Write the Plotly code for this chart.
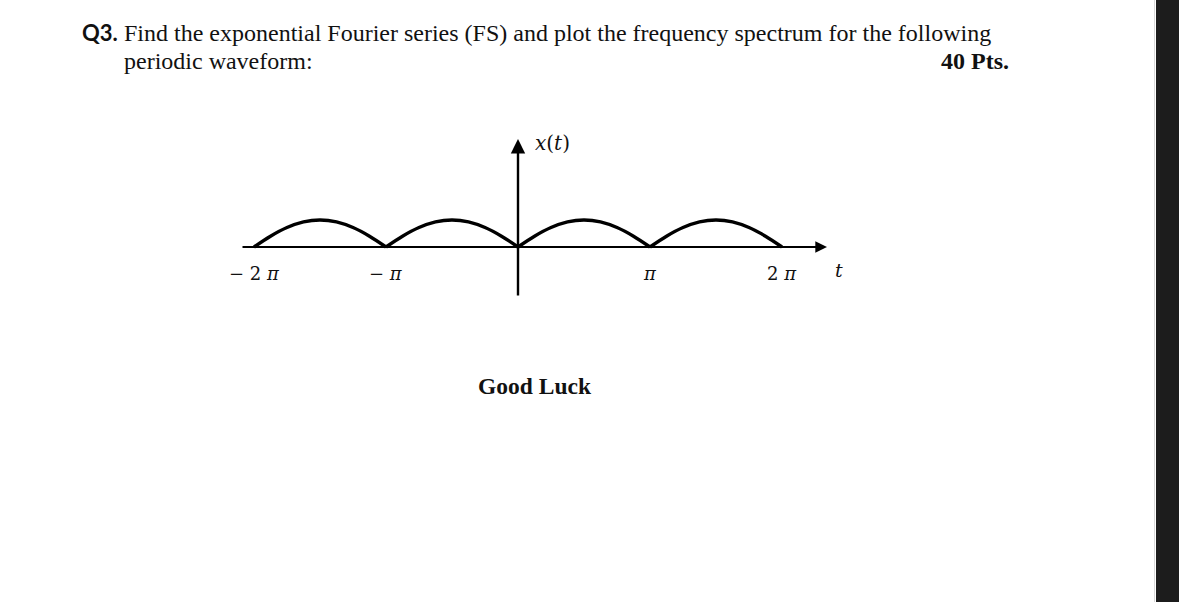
import math
import plotly.graph_objects as go

PI = math.pi

# ---- data ----
arch_starts = [-2 * PI, -PI, 0.0, PI]                 # start of each arch of x(t)
arch_offsets = [0.0, 0.125 * PI, 0.25 * PI, 0.375 * PI, 0.5 * PI,
                0.625 * PI, 0.75 * PI, 0.875 * PI, PI]
arch_heights = [0.0, 0.40, 0.72, 0.93, 1.0, 0.93, 0.72, 0.40, 0.0]
tick_values = [-2 * PI, -PI, PI, 2 * PI]
tick_labels = ["− 2 <i>π</i>", "− <i>π</i>", "<i>π</i>", "2 <i>π</i>"]

W, H = 1179, 602
ORIGIN_X, ORIGIN_Y = 518, 247   # pixel position of (0,0)
PX_PER_PI = 132.0
PX_PER_UNIT_Y = 27.0

x_range = [-ORIGIN_X / PX_PER_PI * PI, (W - ORIGIN_X) / PX_PER_PI * PI]
y_range = [-(H - ORIGIN_Y) / PX_PER_UNIT_Y, ORIGIN_Y / PX_PER_UNIT_Y]

def px_to_t(px):
    return (px - ORIGIN_X) / PX_PER_PI * PI

def py_to_v(py):
    return (ORIGIN_Y - py) / PX_PER_UNIT_Y

fig = go.Figure()

for s in arch_starts:
    fig.add_trace(go.Scatter(
        x=[s + o for o in arch_offsets], y=arch_heights,
        mode="lines", line=dict(color="black", width=3.4, shape="spline"),
        hoverinfo="skip", showlegend=False))

# axes drawn as arrows
fig.add_annotation(x=px_to_t(827), y=0, ax=px_to_t(241), ay=0,
                   xref="x", yref="y", axref="x", ayref="y", text="",
                   showarrow=True, arrowhead=2, arrowsize=1.3, arrowwidth=1.8,
                   arrowcolor="black", standoff=0, startstandoff=0)
fig.add_annotation(x=0, y=py_to_v(139), ax=0, ay=py_to_v(297),
                   xref="x", yref="y", axref="x", ayref="y", text="",
                   showarrow=True, arrowhead=2, arrowsize=1.2, arrowwidth=2.4,
                   arrowcolor="black", standoff=0, startstandoff=0)

serif_math = "DejaVu Serif"
for tv, tl in zip(tick_values, tick_labels):
    fig.add_annotation(x=tv, y=py_to_v(273), xref="x", yref="y", text=tl,
                       showarrow=False, font=dict(family=serif_math, size=18, color="#111"))

fig.add_annotation(x=px_to_t(533), y=py_to_v(143), xref="x", yref="y",
                   text="<i>x</i>(<i>t</i>)", xanchor="left", showarrow=False,
                   font=dict(family=serif_math, size=20, color="#111"))
fig.add_annotation(x=px_to_t(839), y=py_to_v(270), xref="x", yref="y",
                   text="<i>t</i>", showarrow=False,
                   font=dict(family=serif_math, size=19, color="#111"))

# page text
fig.add_annotation(x=80 / W, y=1 - 33 / H, xref="paper", yref="paper",
                   text="<b>Q3.</b>", xanchor="left", yanchor="middle", showarrow=False,
                   font=dict(family="Lato", size=22, color="#111"))
fig.add_annotation(x=122 / W, y=1 - 33 / H, xref="paper", yref="paper",
                   text="Find the exponential Fourier series (FS) and plot the frequency spectrum for the following",
                   xanchor="left", yanchor="middle", showarrow=False,
                   font=dict(family="Liberation Serif", size=24, color="#111"))
fig.add_annotation(x=122 / W, y=1 - 61 / H, xref="paper", yref="paper",
                   text="periodic waveform:", xanchor="left", yanchor="middle", showarrow=False,
                   font=dict(family="Liberation Serif", size=24, color="#111"))
fig.add_annotation(x=1011 / W, y=1 - 61 / H, xref="paper", yref="paper",
                   text="<b>40 Pts.</b>", xanchor="right", yanchor="middle", showarrow=False,
                   font=dict(family="Liberation Serif", size=24, color="#111"))
fig.add_annotation(x=535 / W, y=1 - 386 / H, xref="paper", yref="paper",
                   text="<b>Good Luck</b>", xanchor="center", yanchor="middle", showarrow=False,
                   font=dict(family="Liberation Serif", size=23.5, color="#111"))

# dark strip at the right edge
fig.add_shape(type="rect", xref="paper", yref="paper",
              x0=1156 / W, x1=1.0, y0=0, y1=1, fillcolor="#1c1c1c", line=dict(width=0))
fig.add_shape(type="line", xref="paper", yref="paper",
              x0=1154.5 / W, x1=1154.5 / W, y0=0, y1=1, line=dict(color="#d8d8d8", width=1))

fig.update_layout(
    width=W, height=H, margin=dict(l=0, r=0, t=0, b=0),
    paper_bgcolor="white", plot_bgcolor="white", showlegend=False,
    xaxis=dict(range=x_range, visible=False, fixedrange=True),
    yaxis=dict(range=y_range, visible=False, fixedrange=True),
)

fig.write_html(
    "out.html",
    config={"displayModeBar": False},
    post_script="document.body.style.margin='0';document.body.style.overflow='hidden';",
)
